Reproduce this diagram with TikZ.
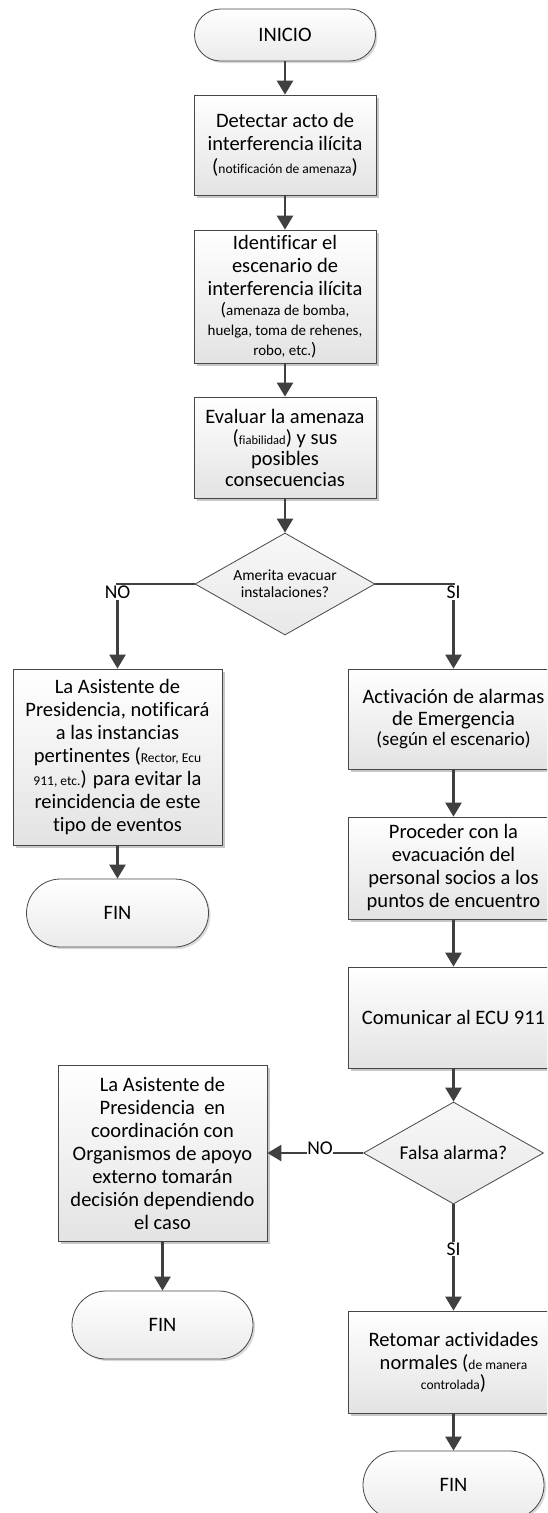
\documentclass[tikz,border=0pt]{standalone}
\usepackage{fontspec}
\setmainfont{Carlito}[Ligatures=NoCommon]
\usetikzlibrary{arrows.meta,shapes.geometric,shadows}
\definecolor{lc}{HTML}{404040}
\definecolor{bc}{HTML}{474747}
\newcommand\fbig{\fontsize{20.5}{23}\selectfont}
\newcommand\fsz[2]{{\fontsize{#1}{#1}\selectfont #2}}
\begin{document}
\begin{tikzpicture}[x=1pt,y=-1pt,
  base/.style={draw=bc, line width=0.8pt, align=center, inner sep=1pt, font=\fbig, text=black},
  proc/.style={base, rectangle, shading=axis, top color=white, bottom color=black!11,
    drop shadow={shadow xshift=3pt, shadow yshift=-3pt, fill=black!22, opacity=1}},
  term/.style={base, rectangle, shading=axis, top color=white, bottom color=black!8,
    drop shadow={shadow xshift=2pt, shadow yshift=-2pt, fill=black!15, opacity=1}},
  dec/.style={base, diamond, shading=axis, top color=black!3, bottom color=black!9,
    minimum width=180pt, minimum height=102pt, aspect=1.76, inner sep=0pt},
  arr/.style={draw=lc, line width=2.6pt, -{Triangle[width=16pt,length=14pt]}},
  lbl/.style={fill=white, inner sep=1pt, text=black, font=\fontsize{19.5}{19.5}\selectfont}
]
\useasboundingbox (0,0) rectangle (547,1513);
\clip (0,0) rectangle (547,1513);
\fill[white] (0,0) rectangle (547,1513);

% main column
\node[term, rounded corners=26pt, minimum width=181pt, minimum height=52pt] (ini) at (285,35) {INICIO};
\node[proc, minimum width=182pt, minimum height=100pt] (b1) at (285,145)
  {Detectar acto de\\ interferencia ilícita\\ (\fsz{13.5}{notificación de amenaza})};
\node[proc, minimum width=182pt, minimum height=133pt] (b2) at (285,296.5)
  {Identificar el\\ escenario de\\ interferencia ilícita\\[-3pt]
   \fsz{18}{(}\fsz{15}{amenaza de bomba,}\\[-3pt]
   \fsz{15}{huelga, toma de rehenes,}\\[-3pt]
   \fsz{15}{robo, etc.}\fsz{18}{)}};
\node[proc, minimum width=182pt, minimum height=101pt] (b3) at (285,447.5)
  {Evaluar la amenaza\\[-2pt] (\fsz{12.5}{fiabilidad}) y sus\\[-2pt] posibles\\[-2pt] consecuencias};
\node[dec, font=\fontsize{15.5}{17}\selectfont] (d1) at (285,584) {Amerita evacuar\\ instalaciones?};

% left branch
\node[proc, minimum width=209pt, minimum height=176pt] (l1) at (117.5,757)
  {La Asistente de\\ Presidencia, notificará\\ a las instancias\\
   pertinentes (\fsz{13.5}{Rector, Ecu}\\ \fsz{13.5}{911, etc.}) para evitar la\\
   reincidencia de este\\ tipo de eventos};
\node[term, rounded corners=34pt, minimum width=182pt, minimum height=68pt] (f1) at (117.5,913) {FIN};

% right branch
\node[proc, minimum width=211pt, minimum height=100pt] (r1) at (453.5,719)
  {Activación de alarmas\\[-1pt] de Emergencia\\[-3pt] \fsz{19}{(según el escenario)}};
\node[proc, minimum width=211pt, minimum height=102pt] (r2) at (453.5,868)
  {Proceder con la\\ evacuación del\\ personal socios a los\\ puntos de encuentro};
\node[proc, minimum width=211pt, minimum height=101pt] (r3) at (453.5,1017.5)
  {Comunicar al ECU 911};
\node[dec, font=\fontsize{19.5}{19.5}\selectfont] (d2) at (453.5,1153) {Falsa alarma?};
\node[proc, minimum width=209pt, minimum height=176pt] (l2) at (162.5,1153)
  {La Asistente de\\ Presidencia~ en\\ coordinación con\\ Organismos de apoyo\\
   externo tomarán\\ decisión dependiendo\\ el caso};
\node[term, rounded corners=34pt, minimum width=181pt, minimum height=68pt] (f2) at (162.5,1325) {FIN};
\node[proc, minimum width=211pt, minimum height=102pt] (r4) at (453.5,1362)
  {Retomar actividades\\ normales (\fsz{13.5}{de manera}\\[-3pt] \fsz{13.5}{controlada})};
\node[term, rounded corners=34pt, minimum width=181pt, minimum height=68pt] (f3) at (453.5,1485) {FIN};

% connectors
\draw[arr] (ini) -- (b1);
\draw[arr] (b1) -- (b2);
\draw[arr] (b2) -- (b3);
\draw[arr] (b3) -- (d1);
\draw[arr] (d1.west) -| node[lbl, pos=0.5, anchor=north] {NO} (l1.north);
\draw[arr] (d1.east) -| node[lbl, pos=0.5, anchor=north] {SI} (r1.north);
\draw[arr] (l1) -- (f1);
\draw[arr] (r1) -- (r2);
\draw[arr] (r2) -- (r3);
\draw[arr] (r3) -- (d2);
\draw[arr] (d2.west) -- node[lbl, pos=0.45, yshift=5pt, inner sep=0.5pt] {NO} (l2.east);
\draw[arr] (d2.south) -- node[lbl, pos=0.42] {SI} (r4.north);
\draw[arr] (l2) -- (f2);
\draw[arr] (r4) -- (f3);
\end{tikzpicture}
\end{document}
